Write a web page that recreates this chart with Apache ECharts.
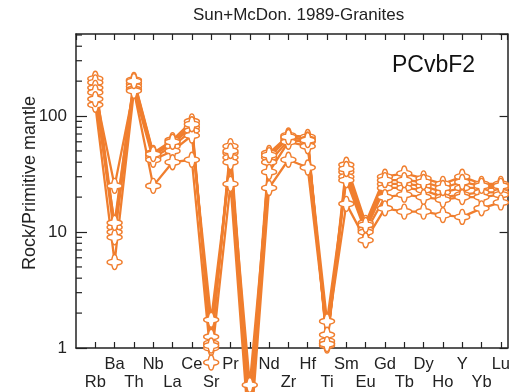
<!DOCTYPE html>
<html><head><meta charset="utf-8">
<script src="https://cdn.jsdelivr.net/npm/echarts@6/dist/echarts.min.js"></script>
<style>html,body{margin:0;padding:0;background:#fff}#c{width:513px;height:392px}</style>
</head><body><div id="c"></div>
<script>
const categories = ['Rb','Ba','Th','Nb','La','Ce','Sr','Pr','P','Nd','Zr','Hf','Ti','Sm','Eu','Gd','Tb','Dy','Ho','Y','Yb','Lu'];
const sample1 = [210, 11, 205, 48, 62, 90, 1.0, 55, 0.3, 48, 68, 66, 1.1, 38, 12, 30, 32, 29, 26, 30, 26, 26];
const sample2 = [195, 10, 190, 46, 58, 80, 1.1, 48, 0.25, 44, 65, 63, 1.05, 33, 11, 26, 26, 25, 22, 24, 24, 24];
const sample3 = [175, 9, 180, 44, 55, 75, 1.25, 44, 0.2, 40, 62, 60, 1.15, 30, 10.5, 24, 24, 23, 20, 21, 22, 22];
const sample4 = [160, 25, 170, 42, 50, 68, 1.75, 40, 0.48, 33, 60, 55, 1.7, 28, 10, 20, 21, 20, 19, 20, 20, 21];
const sample5 = [125, 5.5, 165, 25, 40, 42, 0.75, 26, 0.15, 24, 42, 36, 1.3, 17.5, 8.5, 16, 15, 15, 14, 13.5, 16, 18];
const sample6 = [140, 12, 200, 47, 60, 85, 1.05, 50, 0.22, 46, 66, 62, 1.08, 35, 11.5, 28, 28, 27, 24, 27, 25, 25];
const samples = [sample1, sample2, sample3, sample4, sample5, sample6];
const yTickLabels = [1, 10, 100];
const minorTickValues = [2,3,4,5,6,7,8,9,20,30,40,50,60,70,80,90,200,300,400,500];

const orange = '#F07E2E';
const axisColor = '#222';
const sym = 'path://M0,-7 C2.2,-7 2.2,-4.2 2.6,-2.6 C4.2,-2.2 7,-2.2 7,0 C7,2.2 4.2,2.2 2.6,2.6 C2.2,4.2 2.2,7 0,7 C-2.2,7 -2.2,4.2 -2.6,2.6 C-4.2,2.2 -7,2.2 -7,0 C-7,-2.2 -4.2,-2.2 -2.6,-2.6 C-2.2,-4.2 -2.2,-7 0,-7 Z';

const chart = echarts.init(document.getElementById('c'), null, {renderer: 'canvas'});
const font = 'Liberation Sans, Arial, sans-serif';

const series = samples.map(s => ({
  type: 'line',
  data: s.map((v, i) => [i + 1, v]),
  xAxisIndex: 0, yAxisIndex: 0,
  clip: false,
  symbol: sym,
  symbolSize: 15,
  showAllSymbol: true,
  lineStyle: {color: orange, width: 2.3},
  itemStyle: {color: '#fff', borderColor: orange, borderWidth: 1.4},
  emphasis: {disabled: true},
  animation: false,
  z: 3
}));

series.push({
  type: 'custom',
  xAxisIndex: 0, yAxisIndex: 0,
  data: minorTickValues.map(v => [0, v]),
  clip: false,
  silent: true,
  animation: false,
  renderItem: function (params, api) {
    const p = api.coord([0, api.value(1)]);
    return {type: 'line', shape: {x1: p[0], y1: p[1], x2: p[0] + 6, y2: p[1]}, style: {stroke: axisColor, lineWidth: 1.2}};
  },
  z: 2
});

chart.setOption({
  animation: false,
  backgroundColor: '#fff',
  grid: {left: 76, top: 34, width: 441, height: 314},
  graphic: [
    {type: 'text', left: 193, top: 7, style: {text: 'Sun+McDon. 1989-Granites', font: '17px ' + font, fill: '#222'}},
    {type: 'text', left: 392, top: 54, style: {text: 'PCvbF2', font: '23px ' + font, fill: '#111'}}
  ],
  xAxis: [
    {
      type: 'value', position: 'bottom', min: 0, max: 22.35, interval: 1,
      axisLine: {onZero: false, lineStyle: {color: axisColor, width: 1.5}},
      axisTick: {inside: true, length: 6, lineStyle: {color: axisColor, width: 1.2}},
      splitLine: {show: false},
      axisLabel: {
        margin: 7, fontSize: 16.5, fontFamily: font, color: '#222', lineHeight: 18,
        showMinLabel: false, showMaxLabel: false,
        formatter: function (v) {
          const i = Math.round(v);
          if (Math.abs(v - i) > 1e-6 || i < 1 || i > categories.length) return '';
          return (i % 2 === 1) ? '\n' + categories[i - 1] : categories[i - 1];
        }
      }
    },
    {
      type: 'value', position: 'top', min: 0, max: 22.35, interval: 1,
      axisLine: {onZero: false, lineStyle: {color: axisColor, width: 1.5}},
      axisTick: {inside: true, length: 6, lineStyle: {color: axisColor, width: 1.2}},
      splitLine: {show: false},
      axisLabel: {show: false}
    }
  ],
  yAxis: [
    {
      type: 'log', logBase: 10, min: 1, max: 510, position: 'left',
      name: 'Rock/Primitive mantle', nameLocation: 'middle', nameGap: 37, nameMoveOverlap: false,
      nameTextStyle: {fontSize: 18, fontFamily: font, color: '#222', padding: [0, 0, 0, 16]},
      axisLine: {onZero: false, lineStyle: {color: axisColor, width: 1.5}},
      axisTick: {inside: true, length: 11, lineStyle: {color: axisColor, width: 1.2}},
      splitLine: {show: false},
      axisLabel: {
        margin: 9, fontSize: 17, fontFamily: font, color: '#222', showMaxLabel: false,
        formatter: function (v) { return yTickLabels.indexOf(Math.round(v)) >= 0 ? String(Math.round(v)) : ''; }
      }
    },
    {
      type: 'log', logBase: 10, min: 1, max: 510, position: 'right',
      axisLine: {onZero: false, lineStyle: {color: axisColor, width: 1.5}},
      axisTick: {inside: true, length: 8, lineStyle: {color: axisColor, width: 1.2}},
      splitLine: {show: false},
      axisLabel: {show: false}
    }
  ],
  series: series
});
</script></body></html>
